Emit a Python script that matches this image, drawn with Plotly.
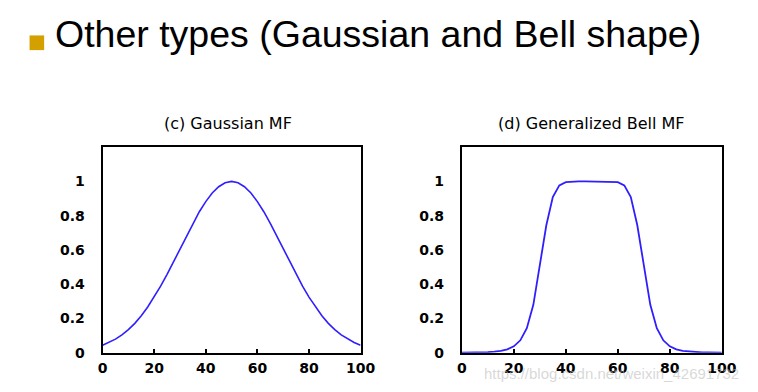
import plotly.graph_objects as go

# ---- data ----
x_values = [0, 2.5, 5, 7.5, 10, 12.5, 15, 17.5, 20, 22.5, 25, 27.5, 30, 32.5, 35, 37.5,
            40, 42.5, 45, 47.5, 50, 52.5, 55, 57.5, 60, 62.5, 65, 67.5, 70, 72.5, 75,
            77.5, 80, 82.5, 85, 87.5, 90, 92.5, 95, 97.5, 100]

gaussian_mf = [0.044, 0.060, 0.080, 0.105, 0.135, 0.172, 0.216, 0.267, 0.325, 0.389,
               0.458, 0.531, 0.607, 0.682, 0.755, 0.823, 0.882, 0.932, 0.969, 0.992,
               1.000, 0.992, 0.969, 0.932, 0.882, 0.823, 0.755, 0.682, 0.607, 0.531,
               0.458, 0.389, 0.325, 0.267, 0.216, 0.172, 0.135, 0.105, 0.080, 0.060, 0.044]

bell_mf = [0.001, 0.001, 0.002, 0.002, 0.004, 0.007, 0.011, 0.020, 0.038, 0.073,
           0.144, 0.280, 0.500, 0.744, 0.909, 0.977, 0.996, 1.000, 1.000, 1.000,
           1.000, 1.000, 1.000, 1.000, 0.996, 0.977, 0.909, 0.744, 0.500, 0.280,
           0.144, 0.073, 0.038, 0.020, 0.011, 0.007, 0.004, 0.002, 0.002, 0.001, 0.001]

x_ticks = [0, 20, 40, 60, 80, 100]
y_ticks = [0, 0.2, 0.4, 0.6, 0.8, 1]
y_tick_labels = ["0", "0.2", "0.4", "0.6", "0.8", "1"]

slide_title = "Other types (Gaussian and Bell shape)"
panel_titles = ["(c) Gaussian MF", "(d) Generalized Bell MF"]
watermark = "https://blog.csdn.net/weixin_42691732"

W, H = 758, 392
LINE_COLOR = "#2f1fff"
TICK_FONT = dict(family="DejaVu Sans, sans-serif", size=14, color="#000000", weight="bold")

fig = go.Figure()
fig.add_trace(go.Scatter(x=x_values, y=gaussian_mf, mode="lines",
                         line=dict(color=LINE_COLOR, width=1.6), xaxis="x", yaxis="y",
                         showlegend=False, hoverinfo="skip"))
fig.add_trace(go.Scatter(x=x_values, y=bell_mf, mode="lines",
                         line=dict(color=LINE_COLOR, width=1.8), xaxis="x2", yaxis="y2",
                         showlegend=False, hoverinfo="skip"))

def px_x(p):
    return p / W

def px_y(p):
    return 1 - p / H

ydom = [px_y(352), px_y(142)]
xdom1 = [px_x(92), px_x(357)]
xdom2 = [px_x(461), px_x(728)]

xcommon = dict(range=[0, 100], tickvals=x_ticks, ticks="inside", ticklen=4, tickwidth=2,
               tickcolor="black", showline=True, linecolor="black", linewidth=2,
               mirror=True, showgrid=False, zeroline=False, tickfont=TICK_FONT,
               ticklabelstandoff=1, fixedrange=True)
ycommon = dict(range=[0, 1.2], tickvals=y_ticks, ticktext=y_tick_labels, ticks="",
               showline=True, linecolor="black", linewidth=2, mirror=True,
               showgrid=False, zeroline=False, tickfont=TICK_FONT,
               ticklabelstandoff=13, fixedrange=True)
yright = dict(range=[0, 1.2], tickvals=y_ticks, ticks="inside", ticklen=4, tickwidth=2,
              tickcolor="black", showticklabels=False, showline=False, showgrid=False,
              zeroline=False, side="right", fixedrange=True)

fig.update_layout(
    width=W, height=H,
    margin=dict(l=0, r=0, t=0, b=0),
    paper_bgcolor="white", plot_bgcolor="white",
    xaxis=dict(domain=xdom1, anchor="y", **xcommon),
    yaxis=dict(domain=ydom, anchor="x", **ycommon),
    xaxis2=dict(domain=xdom2, anchor="y2", **xcommon),
    yaxis2=dict(domain=ydom, anchor="x2", **ycommon),
    yaxis3=dict(overlaying="y", anchor="x", **yright),
    yaxis4=dict(overlaying="y2", anchor="x2", **yright),
    showlegend=False,
)

# bullet square
fig.add_shape(type="rect", xref="paper", yref="paper",
              x0=px_x(17), x1=px_x(32), y0=px_y(43), y1=px_y(28),
              fillcolor="#d4a000", line=dict(width=0))

annotations = [
    dict(text=slide_title, x=px_x(41), y=px_y(27), xanchor="left", yanchor="middle",
         font=dict(family="Liberation Sans, Arial, sans-serif", size=37.5, color="black")),
    dict(text=panel_titles[0], x=px_x(221), y=px_y(118), xanchor="center", yanchor="middle",
         font=dict(family="DejaVu Sans, sans-serif", size=16, color="black")),
    dict(text=panel_titles[1], x=px_x(594), y=px_y(118), xanchor="center", yanchor="middle",
         font=dict(family="DejaVu Sans, sans-serif", size=16, color="black")),
    dict(text=watermark, x=px_x(748), y=px_y(373), xanchor="right", yanchor="middle",
         font=dict(family="Liberation Sans, Arial, sans-serif", size=15, color="rgba(190,190,190,0.6)")),
]
for a in annotations:
    fig.add_annotation(xref="paper", yref="paper", showarrow=False, **a)

fig.write_html("out.html")
